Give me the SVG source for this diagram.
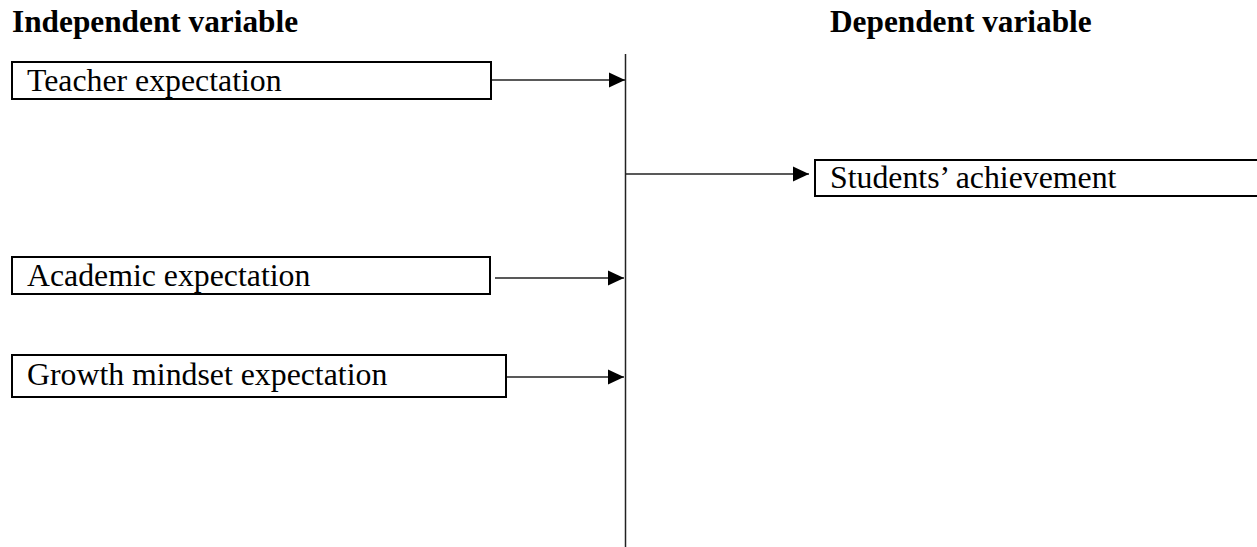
<svg xmlns="http://www.w3.org/2000/svg" width="1257" height="547" viewBox="0 0 1257 547">
<style>
.box{fill:#fff;stroke:#000;stroke-width:2}
.lbl{font-family:"Liberation Serif","Times New Roman",serif;font-size:31.8px;fill:#000}
.ttl{font-family:"Liberation Serif","Times New Roman",serif;font-size:31.3px;font-weight:bold;fill:#000}
.con{stroke:#222;stroke-width:1.5;fill:none}
</style>
<defs>
<marker id="ah" markerUnits="userSpaceOnUse" markerWidth="17" markerHeight="16" refX="16" refY="8" orient="auto">
<polygon points="0,0.5 16,8 0,15.5" fill="#000"/>
</marker>
</defs>
<rect width="1257" height="547" fill="#fff"/>
<text class="ttl" x="12" y="32">Independent variable</text>
<text class="ttl" x="830" y="32">Dependent variable</text>
<g id="teacher">
<rect class="box" x="12" y="62" width="479" height="37"/>
<text class="lbl" x="27" y="91">Teacher expectation</text>
</g>
<g id="academic">
<rect class="box" x="12" y="257" width="478" height="37"/>
<text class="lbl" x="27" y="286">Academic expectation</text>
</g>
<g id="growth">
<rect class="box" x="12" y="355" width="494" height="42"/>
<text class="lbl" x="27" y="385">Growth mindset expectation</text>
</g>
<g id="students">
<rect class="box" x="815" y="160" width="500" height="36"/>
<text class="lbl" x="830" y="188">Students’ achievement</text>
</g>
<g id="connectors">
<line class="con" x1="625.5" y1="54" x2="625.5" y2="547"/>
<line class="con" x1="492" y1="80" x2="625" y2="80" marker-end="url(#ah)"/>
<line class="con" x1="626" y1="174" x2="809" y2="174" marker-end="url(#ah)"/>
<line class="con" x1="495" y1="278" x2="624" y2="278" marker-end="url(#ah)"/>
<line class="con" x1="507" y1="377" x2="624" y2="377" marker-end="url(#ah)"/>
</g>
</svg>
